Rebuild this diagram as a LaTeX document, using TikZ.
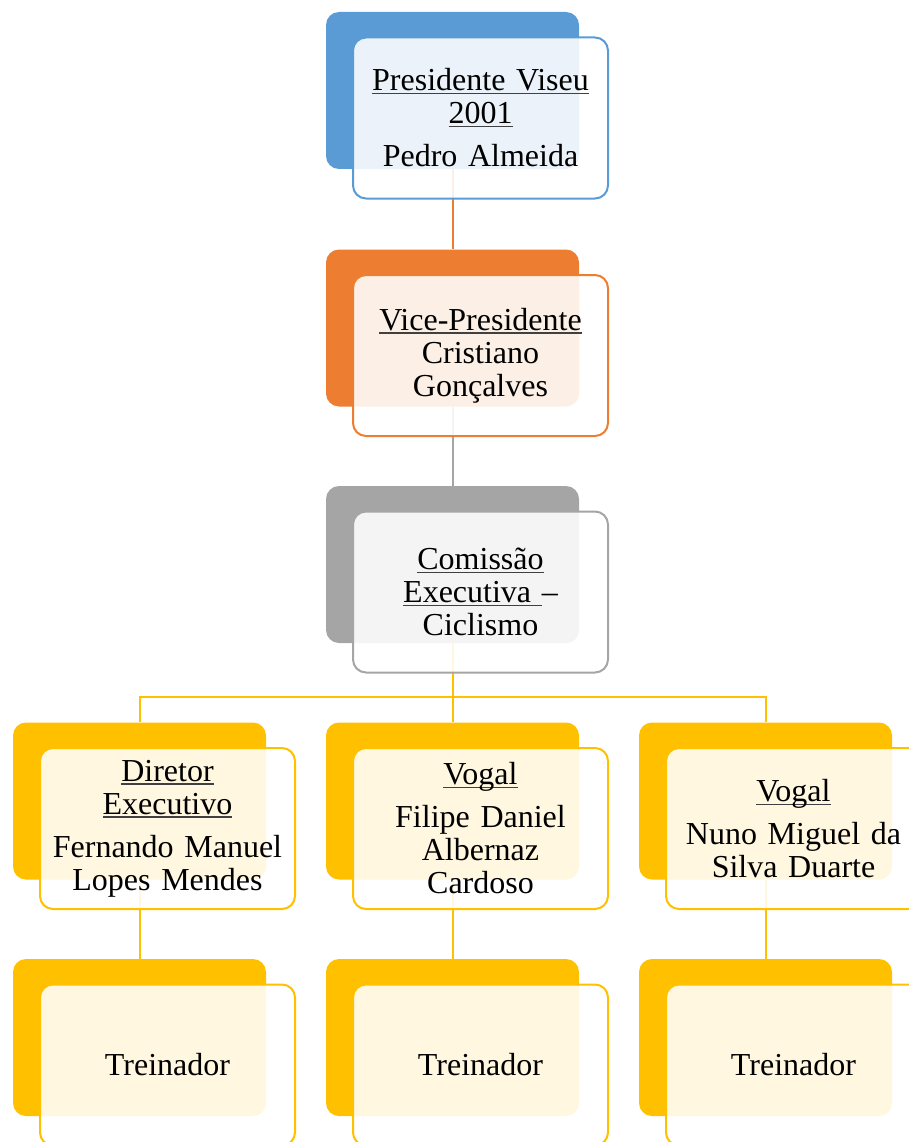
\documentclass[tikz,border=0pt]{standalone}
\usepackage{fontspec}
\setmainfont{Liberation Serif}

\definecolor{sablue}{HTML}{5B9BD5}
\definecolor{saorange}{HTML}{ED7D31}
\definecolor{sagray}{HTML}{A5A5A5}
\definecolor{sagold}{HTML}{FFC000}

% underline at a fixed depth
\newcommand\uln[1]{\leavevmode\setbox0\hbox{#1}\rlap{\color{black!75}\rule[-3.5pt]{\wd0}{1.3pt}}\box0}

\tikzset{
	backbox/.style={fill=#1, rounded corners=13pt, minimum width=253pt, minimum height=157pt, inner sep=0pt},
	frontbox/.style={draw=#1, line width=2pt, fill=white, fill opacity=0.88, text opacity=1,
		rounded corners=13pt, minimum width=255pt, minimum height=161pt, inner sep=0pt,
		text width=250pt, align=center, font=\fontsize{32}{33}\selectfont,
		xshift=28pt, yshift=-27.5pt},
	link/.style={draw=#1, line width=2pt},
}

\begin{document}
\begin{tikzpicture}[x=1pt, y=-1pt]
	\useasboundingbox (0,0) rectangle (909,1142);
	\clip (0,0) rectangle (909,1142);

	% back boxes
	\node[backbox=sablue] (bpres) at (452.5,90.5) {};
	\node[backbox=saorange] (bvice) at (452.5,328) {};
	\node[backbox=sagray] (bcom) at (452.5,564.5) {};
	\node[backbox=sagold] (bdir) at (139.5,801) {};
	\node[backbox=sagold] (bvog1) at (452.5,801) {};
	\node[backbox=sagold] (bvog2) at (765.5,801) {};
	\foreach \n/\x in {1/139.5, 2/452.5, 3/765.5}
	{
	\node[backbox=sagold] (btr\n) at (\x,1037.5) {};
}

	% connectors
	\draw[link=saorange] (bpres.south) -- (bvice.north);
	\draw[link=sagray] (bvice.south) -- (bcom.north);
	\foreach \c in {bdir, bvog1, bvog2}
	{
	\draw[link=sagold] (bcom.south) -- ++(0,54) -| (\c.north);
}
	\foreach \a/\b in {bdir/btr1, bvog1/btr2, bvog2/btr3}
	{
	\draw[link=sagold] (\a.south) -- (\b.north);
}

	% front boxes
	\node[frontbox=sablue] (pres) at (bpres) {\uln{Presidente Viseu}\\ \uln{2001}\\[10pt] Pedro Almeida};
	\node[frontbox=saorange] (vice) at (bvice) {\uln{Vice-Presidente}\\ Cristiano\\ Gonçalves};
	\node[frontbox=sagray] (com) at (bcom) {\uln{Comissão}\\ \uln{Executiva\ }–\\ Ciclismo};
	\node[frontbox=sagold] (dir) at (bdir) {\uln{Diretor}\\ \uln{Executivo}\\[10pt] Fernando Manuel\\ Lopes Mendes};
	\node[frontbox=sagold] (vog1) at (bvog1) {\uln{Vogal}\\[10pt] Filipe Daniel\\ Albernaz\\ Cardoso};
	\node[frontbox=sagold] (vog2) at (bvog2) {\uln{Vogal}\\[10pt] Nuno Miguel da\\ Silva Duarte};
	\foreach \n in {1,2,3}
	{
	\node[frontbox=sagold] (tr\n) at (btr\n) {Treinador};
}

\end{tikzpicture}
\end{document}
